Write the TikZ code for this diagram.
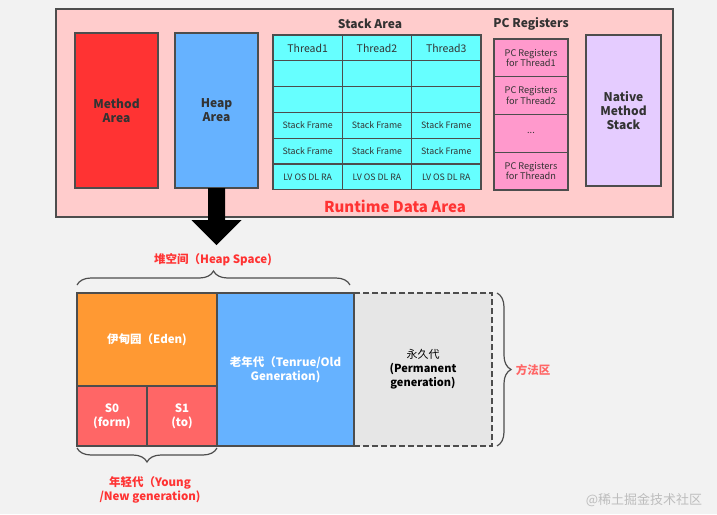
\documentclass[tikz,border=0pt]{standalone}
\usepackage{fontspec}
\setmainfont{Noto Sans CJK SC}
\usetikzlibrary{positioning,decorations.pathreplacing}

\definecolor{linegray}{HTML}{4D4D4D}
\definecolor{textgray}{HTML}{333333}
\definecolor{bggray}{HTML}{F2F2F2}
\definecolor{rdafill}{HTML}{FFCCCC}
\definecolor{methodfill}{HTML}{FF3333}
\definecolor{heapfill}{HTML}{66B2FF}
\definecolor{stackfill}{HTML}{66FFFF}
\definecolor{pcfill}{HTML}{FF99CC}
\definecolor{nativefill}{HTML}{E5CCFF}
\definecolor{edenfill}{HTML}{FF9933}
\definecolor{survfill}{HTML}{FF6666}
\definecolor{permfill}{HTML}{E6E6E6}
\definecolor{labelred}{HTML}{FF3333}
\definecolor{markgray}{HTML}{BDBDBD}

\begin{document}
\begin{tikzpicture}[x=1pt,y=-1pt,
	box/.style={draw=linegray,line width=1.2pt,inner sep=0pt,outer sep=0pt,align=center},
	area/.style={box,text=textgray,font=\fontsize{12}{14}\selectfont\bfseries},
	cell/.style={box,fill=stackfill,minimum width=69.3pt,minimum height=25.8pt,text=textgray,font=\fontsize{8.8}{10}\selectfont},
	pcreg/.style={box,fill=pcfill,minimum width=74pt,minimum height=37.75pt,text=textgray,font=\fontsize{9.2}{10.5}\selectfont},
	gen/.style={box,text=white,font=\fontsize{11.5}{14}\selectfont\bfseries},
	title/.style={text=textgray,font=\fontsize{12}{14}\selectfont\bfseries},
	note/.style={text=labelred,align=center,font=\fontsize{11.5}{14}\selectfont\bfseries},
	brace/.style={draw=linegray,line width=1.2pt,decorate,decoration={brace,amplitude=14pt}}]

	\useasboundingbox[fill=bggray] (0,0) rectangle (717,514);

	% runtime data area
	\node[box,fill=rdafill,minimum width=617pt,minimum height=208pt] (rda) at (364.5,113) {};
	\node[text=methodfill,font=\fontsize{15}{18}\selectfont\bfseries] (rdalabel) at (395,206) {Runtime Data Area};

	\node[area,fill=methodfill,minimum width=83pt,minimum height=155pt] (method) at (116.5,110.5) {Method\\Area};
	\node[area,fill=heapfill,minimum width=83pt,minimum height=155pt] (heap) at (216.5,110.5) {Heap\\Area};
	\node[area,fill=nativefill,minimum width=75pt,minimum height=151pt] (native) at (623.5,110.5) {Native\\Method\\Stack};

	% stack area
	\node[title] (stacktitle) at (370,24) {Stack Area};
	\node[cell,font=\fontsize{10.5}{12}\selectfont] (t1) at (307.7,47.9) {Thread1};
	\node[cell,font=\fontsize{10.5}{12}\selectfont,right=0pt of t1] (t2) {Thread2};
	\node[cell,font=\fontsize{10.5}{12}\selectfont,right=0pt of t2] (t3) {Thread3};
	\node[cell,below=0pt of t1] (a1) {};
	\node[cell,below=0pt of t2] (a2) {};
	\node[cell,below=0pt of t3] (a3) {};
	\node[cell,below=0pt of a1] (b1) {};
	\node[cell,below=0pt of a2] (b2) {};
	\node[cell,below=0pt of a3] (b3) {};
	\node[cell,below=0pt of b1] (c1) {Stack Frame};
	\node[cell,below=0pt of b2] (c2) {Stack Frame};
	\node[cell,below=0pt of b3] (c3) {Stack Frame};
	\node[cell,below=0pt of c1] (d1) {Stack Frame};
	\node[cell,below=0pt of c2] (d2) {Stack Frame};
	\node[cell,below=0pt of c3] (d3) {Stack Frame};
	\node[cell,below=0pt of d1] (e1) {LV OS DL RA};
	\node[cell,below=0pt of d2] (e2) {LV OS DL RA};
	\node[cell,below=0pt of d3] (e3) {LV OS DL RA};

	% pc registers
	\node[title] (pctitle) at (531,24) {PC Registers};
	\node[pcreg] (pc1) at (531,57.9) {PC Registers\\for Thread1};
	\node[pcreg,below=0pt of pc1] (pc2) {PC Registers\\for Thread2};
	\node[pcreg,below=0pt of pc2] (pc3) {...};
	\node[pcreg,below=0pt of pc3] (pcn) {PC Registers\\for Threadn};

	% arrow down to heap space
	\fill[black] ([xshift=-8.5pt]heap.south) -- ([xshift=8.5pt]heap.south)
		-- ([xshift=8.5pt,yshift=-32pt]heap.south) -- ([xshift=25pt,yshift=-32pt]heap.south)
		-- ([yshift=-57pt]heap.south) -- ([xshift=-25pt,yshift=-32pt]heap.south)
		-- ([xshift=-8.5pt,yshift=-32pt]heap.south) -- cycle;

	% heap space
	\node[gen,fill=edenfill,minimum width=140pt,minimum height=93pt] (eden) at (147,339.5) {伊甸园（Eden)};
	\node[gen,fill=survfill,minimum width=70pt,minimum height=60pt] (s0) at (112,416) {S0\\(form)};
	\node[gen,fill=survfill,minimum width=70pt,minimum height=60pt] (s1) at (182,416) {S1\\(to)};
	\node[gen,fill=heapfill,minimum width=137pt,minimum height=153pt] (old) at (285.5,369.5) {老年代（Tenrue/Old\\Generation)};
	\node[box,dashed,dash pattern=on 6pt off 3pt,fill=permfill,minimum width=138pt,minimum height=153pt,
		font=\fontsize{11}{14}\selectfont] (perm) at (423,369.5) {永久代\\\textbf{(Permanent}\\\textbf{generation)}};
	\draw[linegray,line width=1.2pt] (old.north east) -- (old.south east);

	\draw[brace] ([yshift=8pt]eden.north west) -- ([xshift=-4pt,yshift=8pt]old.north east);
	\node[note] (heaplabel) at (213,260) {堆空间（Heap Space)};
	\draw[brace] ([yshift=-2pt]s1.south east) -- ([yshift=-2pt]s0.south west);
	\node[note] (younglabel) at (150,490) {年轻代（Young\\/New generation)};
	\draw[brace] ([xshift=5pt]perm.north east) -- ([xshift=5pt]perm.south east);
	\node[note,text=survfill] (methodlabel) at (533,370) {方法区};

	\node[text=markgray,font=\fontsize{13}{15}\selectfont] (mark) at (644,500) {@稀土掘金技术社区};

\end{tikzpicture}
\end{document}
